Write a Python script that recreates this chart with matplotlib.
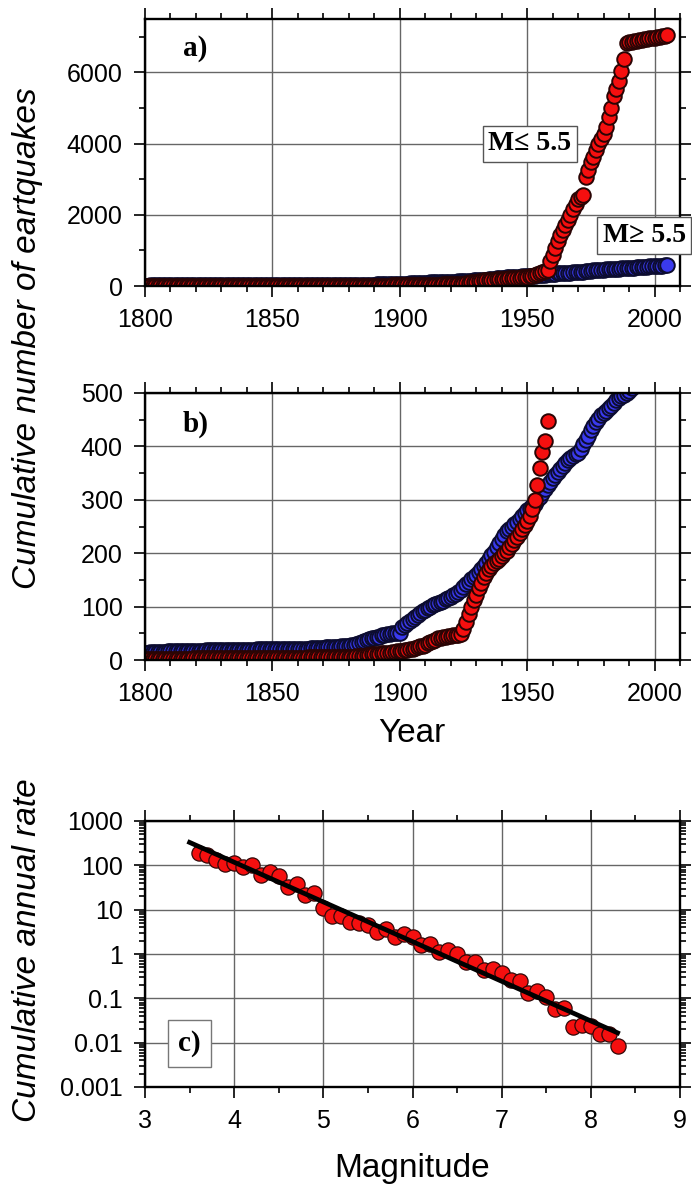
import numpy as np
import matplotlib.pyplot as plt
from matplotlib.ticker import MultipleLocator, LogLocator, FixedLocator, NullFormatter

plt.rcParams['font.family'] = ['Liberation Sans', 'DejaVu Sans']

# yearly cumulative counts, 1800-2005
years = np.arange(1800, 2006)
big_quakes = [  # M >= 5.5
    14, 14, 15, 15, 15, 15, 15, 15, 15, 16,
    16, 16, 16, 16, 16, 16, 16, 16, 16, 16,
    17, 17, 17, 17, 18, 18, 18, 18, 18, 18,
    18, 18, 18, 19, 19, 19, 19, 19, 19, 19,
    19, 19, 19, 19, 20, 20, 20, 20, 20, 20,
    20, 20, 20, 20, 20, 20, 21, 21, 21, 21,
    21, 21, 21, 21, 21, 22, 22, 22, 23, 23,
    23, 24, 24, 24, 25, 25, 25, 26, 26, 26,
    27, 28, 29, 30, 31, 33, 35, 37, 39, 41,
    42, 43, 44, 46, 47, 48, 49, 50, 50, 50,
    51, 62, 66, 70, 73, 76, 80, 84, 88, 91,
    94, 97, 100, 103, 105, 107, 109, 111, 114, 116,
    118, 121, 124, 128, 132, 137, 142, 147, 152, 156,
    160, 165, 170, 176, 182, 189, 196, 203, 211, 219,
    227, 234, 241, 246, 250, 254, 259, 264, 270, 275,
    280, 284, 288, 293, 299, 306, 313, 320, 327, 334,
    340, 346, 352, 358, 364, 369, 374, 378, 382, 385,
    388, 396, 404, 412, 420, 430, 438, 446, 452, 458,
    463, 467, 471, 476, 481, 486, 490, 494, 497, 500,
    504, 510, 515, 520, 526, 531, 537, 542, 548, 553,
    558, 563, 568, 573, 578, 583,
]
small_quakes = [  # M <= 5.5
    2, 2, 2, 2, 2, 2, 2, 2, 2, 2,
    2, 2, 2, 2, 2, 2, 2, 2, 2, 3,
    3, 3, 3, 3, 3, 3, 3, 3, 3, 3,
    3, 3, 3, 3, 3, 3, 3, 3, 3, 3,
    3, 3, 3, 3, 4, 4, 4, 4, 4, 4,
    4, 4, 4, 4, 4, 4, 4, 4, 4, 4,
    4, 4, 4, 4, 5, 5, 5, 5, 5, 5,
    5, 5, 5, 5, 5, 5, 5, 5, 6, 6,
    6, 6, 6, 7, 7, 8, 8, 9, 10, 11,
    11, 12, 12, 13, 13, 14, 14, 15, 15, 16,
    16, 17, 18, 19, 20, 21, 23, 24, 26, 27,
    29, 31, 33, 36, 38, 41, 42, 43, 44, 45,
    45, 46, 46, 47, 48, 58, 72, 87, 100, 112,
    122, 134, 145, 155, 163, 170, 176, 181, 186, 190,
    195, 200, 205, 211, 217, 224, 231, 238, 245, 252,
    260, 270, 282, 300, 327, 360, 390, 410, 447, 700,
    880, 1060, 1260, 1430, 1580, 1700, 1850, 2000, 2170, 2300,
    2430, 2500, 2560, 3060, 3270, 3480, 3630, 3810, 4000, 4140,
    4280, 4470, 4750, 5010, 5350, 5540, 5770, 6030, 6380, 6820,
    6840, 6855, 6870, 6885, 6900, 6915, 6930, 6945, 6955, 6965,
    6980, 6990, 7000, 7015, 7025, 7040,
]

# magnitude-frequency
magnitudes = np.round(np.arange(3.6, 8.35, 0.1), 1)
annual_rate = [
    193, 170, 132, 107, 115, 90, 102, 61, 70, 56,
    32, 38, 21, 23.5, 10.7, 7.2, 7.1, 5.3, 5.1, 4.5,
    3.2, 3.7, 2.45, 2.9, 2.4, 1.6, 1.7, 1.1, 1.2, 1.0,
    0.66, 0.66, 0.44, 0.45, 0.38, 0.26, 0.25, 0.13, 0.145, 0.105,
    0.056, 0.059, 0.023, 0.025, 0.024, 0.016, 0.016, 0.0083,
]
gr_a, gr_b = 5.65, 0.895
fit_mag = np.array([3.5, 8.3])

RED = '#f50f0f'
BLUE = '#3a3aee'
serif = ['Liberation Serif', 'DejaVu Serif']


def style(ax):
    ax.set_axisbelow(True)
    ax.grid(True, which='major', color='#666666', lw=1.0)
    for sp in ax.spines.values():
        sp.set_linewidth(1.7)
    ax.tick_params(which='both', direction='out', top=True, right=True,
                   labelsize=18, width=1.2, pad=8)
    ax.tick_params(which='major', length=8)
    ax.tick_params(which='minor', length=4)


def counts_panel(ax, ymax, major, minor):
    ax.scatter(years, big_quakes, s=110, c=BLUE, edgecolors='#0c0c30', linewidths=1.4)
    ax.scatter(years, small_quakes, s=110, c=RED, edgecolors='#2a0404', linewidths=1.4)
    ax.set_xlim(1800, 2010)
    ax.set_ylim(0, ymax)
    ax.xaxis.set_major_locator(MultipleLocator(50))
    ax.xaxis.set_minor_locator(MultipleLocator(10))
    ax.yaxis.set_major_locator(MultipleLocator(major))
    ax.yaxis.set_minor_locator(MultipleLocator(minor))
    style(ax)


fig = plt.figure(figsize=(6.92, 11.92), dpi=100)
W, H = 692, 1192
ax_a = fig.add_axes([145 / W, 1 - 286 / H, 535 / W, 267 / H])
ax_b = fig.add_axes([145 / W, 1 - 660 / H, 535 / W, 267 / H])
ax_c = fig.add_axes([145 / W, 1 - 1087 / H, 535 / W, 266 / H])

counts_panel(ax_a, 7500, 2000, 1000)
counts_panel(ax_b, 500, 100, 50)

ax_a.text((183 - 145) / 535, 1 - 30 / 267, 'a)', transform=ax_a.transAxes, family=serif,
          weight='bold', fontsize=21, va='center', ha='left')
ax_b.text((183 - 145) / 535, 1 - 31 / 267, 'b)', transform=ax_b.transAxes, family=serif,
          weight='bold', fontsize=21, va='center', ha='left')

box = dict(boxstyle='square,pad=0.2', fc='white', ec='#555555', lw=1.0)
ax_a.text(1951, 4000, 'M\u2264 5.5', family=serif, weight='bold', fontsize=20,
          ha='center', va='center', bbox=box, clip_on=False)
ax_a.text(1996, 1420, 'M\u2265 5.5', family=serif, weight='bold', fontsize=20,
          ha='center', va='center', bbox=box, clip_on=False)

# panel c
ax_c.set_yscale('log')
ax_c.scatter(magnitudes, annual_rate, s=120, c=RED, edgecolors='#300808', linewidths=0.9, zorder=2)
ax_c.plot(fit_mag, 10 ** (gr_a - gr_b * fit_mag), color='black', lw=3.4, zorder=3)
ax_c.set_xlim(3, 9)
ax_c.set_ylim(0.001, 1000)
ax_c.xaxis.set_major_locator(MultipleLocator(1))
ax_c.xaxis.set_minor_locator(MultipleLocator(0.5))
decades = [0.001, 0.01, 0.1, 1, 10, 100, 1000]
ax_c.yaxis.set_major_locator(FixedLocator(decades))
ax_c.set_yticklabels(['0.001', '0.01', '0.1', '1', '10', '100', '1000'])
ax_c.yaxis.set_minor_locator(LogLocator(base=10, subs=np.arange(2, 10)))
ax_c.yaxis.set_minor_formatter(NullFormatter())
style(ax_c)
ax_c.text(3.5, 0.0095, 'c)', family=serif, weight='bold', fontsize=21,
          ha='center', va='center',
          bbox=dict(boxstyle='square,pad=0.35', fc='white', ec='#777777', lw=1.0))

fig.text(28 / W, 1 - 338 / H, 'Cumulative number of eartquakes', rotation=90,
         style='italic', fontsize=24, ha='center', va='center')
fig.text(412 / W, 1 - 734 / H, 'Year', fontsize=24, ha='center', va='center')
fig.text(28 / W, 1 - 950 / H, 'Cumulative annual rate', rotation=90,
         style='italic', fontsize=24, ha='center', va='center')
fig.text(412 / W, 1 - 1168 / H, 'Magnitude', fontsize=24, ha='center', va='center')

fig.savefig('out.png', dpi=100)
